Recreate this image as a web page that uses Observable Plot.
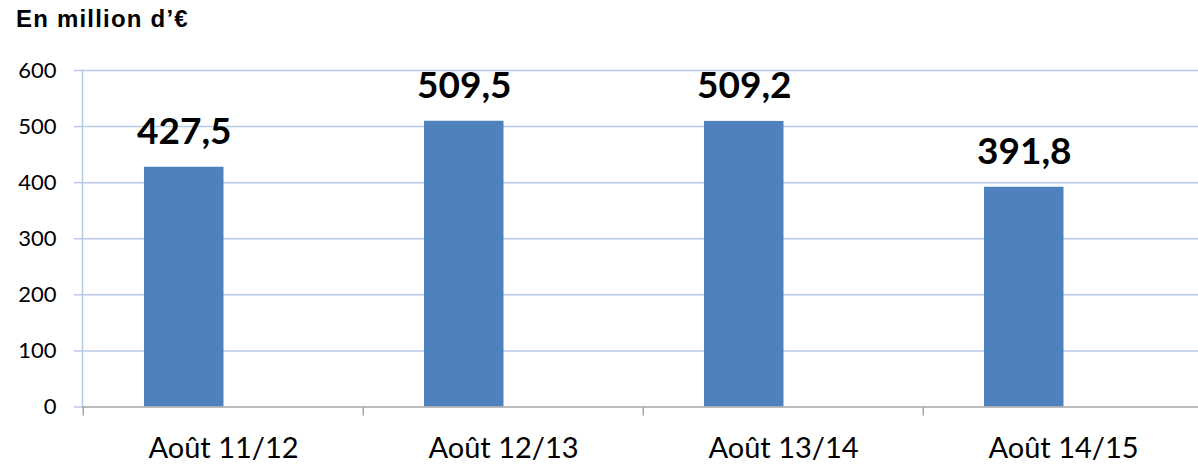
<!DOCTYPE html>
<html>
<head>
<meta charset="utf-8">
<script src="https://cdn.jsdelivr.net/npm/d3@7"></script>
<script src="https://cdn.jsdelivr.net/npm/@observablehq/plot@0.6"></script>
<style>
  html, body { margin: 0; padding: 0; background: #fff; }
  #wrap { position: relative; width: 1198px; height: 466px; overflow: hidden; }
  #title { position: absolute; left: 16px; top: 5px; font-family: Arial, Helvetica, "Liberation Sans", sans-serif; font-weight: 700; font-size: 24px; letter-spacing: 1.2px; color: #000; }
</style>
</head>
<body>
<div id="wrap">
  <div id="title">En million d’€</div>
  <div id="chart"></div>
</div>
<script>
const categories = ["Août 11/12", "Août 12/13", "Août 13/14", "Août 14/15"];
const values = [427.5, 509.5, 509.2, 391.8];
const valueLabels = ["427,5", "509,5", "509,2", "391,8"];
const yTicks = [0, 100, 200, 300, 400, 500, 600];

const data = categories.map((c, i) => ({category: c, value: values[i], label: valueLabels[i]}));

const band = (1204 - 82) / categories.length;
const barOffset = 101 - band / 2; // bar centre relative to band centre

const chart = Plot.plot({
  width: 1198,
  height: 466,
  marginLeft: 82,
  marginRight: -6,
  marginTop: 70,
  marginBottom: 59.5,
  style: {fontFamily: "Lato, sans-serif", background: "#fff", overflow: "hidden"},
  x: {domain: categories, range: [82, 1204], padding: 0, label: null},
  y: {domain: [0, 600], range: [406.5, 70], label: null},
  marks: [
    Plot.gridY(yTicks.filter(d => d > 0), {stroke: "#b9cae8", strokeOpacity: 1, strokeWidth: 1.5}),
    Plot.axisY(yTicks, {tickSize: 8, stroke: "#b9cae8", strokeWidth: 1.5, fill: "#000", fontSize: 22, tickPadding: 18, label: null}),
    Plot.frame({anchor: "left", stroke: "#b9cae8", strokeWidth: 1.5}),
    Plot.barY(data, {x: "category", y: "value", fill: "#4f81bd", insetLeft: 61, insetRight: band - 141}),
    Plot.ruleY([0], {stroke: "#a6a6a6", strokeWidth: 1.5}),
    Plot.ruleX(categories, {x: d => d, y1: 0, y2: -16, stroke: "#a6a6a6", strokeWidth: 1.5, dx: -band / 2}),
    Plot.axisX({tickSize: 0, tickPadding: 30, fontSize: 29, fill: "#000", label: null}),
    Plot.text(data, {x: "category", y: "value", text: "label", dx: barOffset, dy: -23, lineAnchor: "bottom", fontSize: 37, fontWeight: "bold", fill: "#000"})
  ]
});
document.getElementById("chart").appendChild(chart);
</script>
</body>
</html>
